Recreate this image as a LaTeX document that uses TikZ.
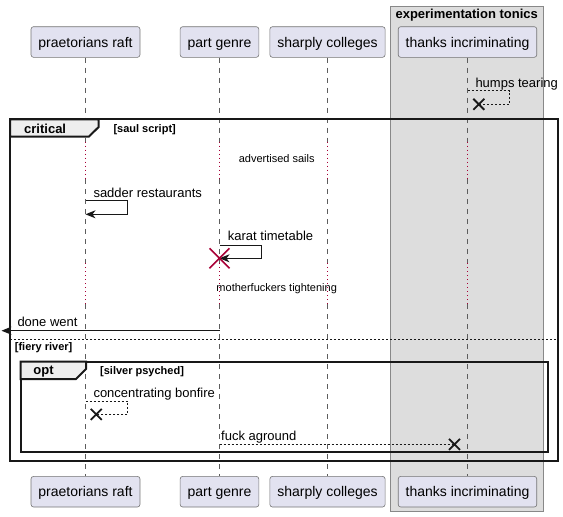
\documentclass[tikz,border=0pt]{standalone}
\usepackage{fontspec}
\setmainfont{Liberation Sans}
\usetikzlibrary{arrows.meta,positioning,calc}

\definecolor{partfill}{HTML}{E2E2F0}
\definecolor{partline}{HTML}{181818}
\definecolor{boxfill}{HTML}{DDDDDD}
\definecolor{boxline}{HTML}{888888}
\definecolor{tabfill}{HTML}{EEEEEE}
\definecolor{delayred}{HTML}{A80036}

\tikzset{
  part/.style={draw=partline!60,fill=partfill,rounded corners=2.5pt,line width=0.6pt,
    minimum height=30.6pt,inner xsep=7.4pt,text height=11.5pt,text depth=1pt,
    font=\fontsize{14}{16}\selectfont},
  life/.style={partline!70,line width=0.6pt,dash pattern=on 5pt off 5pt},
  delayline/.style={delayred,line width=1pt,dash pattern=on 1pt off 3pt},
  msg/.style={anchor=base west,inner sep=0pt,font=\fontsize{13}{15}\selectfont},
  delaytext/.style={anchor=base,inner sep=0pt,font=\fontsize{11}{13}\selectfont},
  frame/.style={partline,line width=2pt},
  tab/.style={partline,line width=2pt,fill=tabfill},
  fhead/.style={anchor=base west,inner sep=0pt,font=\bfseries\fontsize{13}{15}\selectfont},
  guard/.style={anchor=base west,inner sep=0pt,font=\bfseries\fontsize{11}{13}\selectfont},
  solidmsg/.style={partline,line width=1pt,-{Stealth[length=10pt,width=8pt,inset=3pt]}},
  dashmsg/.style={partline,line width=0.9pt,dash pattern=on 2pt off 2pt},
  cross/.style={partline,line width=1.8pt},
  redcross/.style={delayred,line width=1.6pt},
}

\begin{document}
\begin{tikzpicture}[x=1pt,y=-1pt]
  \useasboundingbox (0,0) rectangle (563,517);
  % box round the last participant
  \draw[boxline,fill=boxfill,line width=0.8pt] (390,6) rectangle (543.3,511.7);
  \node[anchor=base,inner sep=0pt,font=\bfseries\fontsize{13}{15}\selectfont] (tonics) at (466.7,18) {experimentation tonics};
  % participants
  \node[part] (raft) at (85.5,42) {praetorians raft};
  \node[part] (genre) at (219.5,42) {part genre};
  \node[part] (colleges) at (327.5,42) {sharply colleges};
  \node[part] (thanks) at (467.5,42) {thanks incriminating};
  \node[part] (raftb) at (85.5,491.7) {praetorians raft};
  \node[part] (genreb) at (219.5,491.7) {part genre};
  \node[part] (collegesb) at (327.5,491.7) {sharply colleges};
  \node[part] (thanksb) at (467.5,491.7) {thanks incriminating};
  % lifelines, dotted where the delays are
  \foreach \p in {raft,genre,colleges,thanks}{
    \draw[life] (\p.south) -- (\p |- 0,141.5);
    \draw[delayline] (\p |- 0,141.5) -- (\p |- 0,179);
    \draw[life] (\p |- 0,179) -- (\p |- 0,263);
    \draw[delayline] (\p |- 0,263) -- (\p |- 0,304);
    \draw[life] (\p |- 0,304) -- (\p b.north);
  }
  % humps tearing
  \coordinate (humpsx) at (478.8,104.3);
  \draw[dashmsg] (thanks |- 0,90.7) -- (509.3,90.7) -- (509.3,104.3) -- (humpsx);
  \draw[cross] (humpsx) +(-5.5,-5.5) -- +(5.5,5.5) +(-5.5,5.5) -- +(5.5,-5.5);
  \node[msg] (humps) at (475.3,87.3) {humps tearing};
  % critical frame
  \draw[frame] (10,119.3) rectangle (557.5,460.7);
  \draw[tab] (10,119.3) -- (98.7,119.3) -- (98.7,127) -- (88.7,136.7) -- (10,136.7) -- cycle;
  \node[fhead] (critical) at (24,133.3) {critical};
  \node[guard] (saul) at (113.3,132.7) {[saul script]};
  \node[delaytext] (sails) at (276.7,162.3) {advertised sails};
  % sadder restaurants
  \draw[solidmsg] (raft |- 0,200.7) -- (127.7,200.7) -- (127.7,214.3) -- (raft |- 0,214.3);
  \node[msg] (sadder) at (93.3,197.3) {sadder restaurants};
  % karat timetable
  \coordinate (killed) at (genre |- 0,258.3);
  \draw[solidmsg] (genre |- 0,245.3) -- (261.3,245.3) -- (261.3,258.3) -- (killed);
  \draw[redcross] (killed) +(-10,-10) -- +(10,10) +(-10,10) -- +(10,-10);
  \node[msg] (karat) at (227.7,240.5) {karat timetable};
  \node[delaytext] (tightening) at (276.7,291.7) {motherfuckers tightening};
  % done went
  \coordinate (offstage) at (1.5,330.7);
  \draw[solidmsg] (genre |- 0,330.7) -- (offstage);
  \node[msg] (done) at (17.3,326.7) {done went};
  % else part
  \draw[partline,line width=0.7pt,dash pattern=on 2pt off 2pt] (10,339.3) -- (557.5,339.3);
  \node[guard] (fiery) at (14.7,350.7) {[fiery river]};
  % opt frame
  \draw[frame] (20.7,361.7) rectangle (547.7,451.7);
  \draw[tab] (20.7,361.7) -- (86,361.7) -- (86,369) -- (76,379) -- (20.7,379) -- cycle;
  \node[fhead] (opt) at (33.3,374.3) {opt};
  \node[guard] (silver) at (100,374) {[silver psyched]};
  % concentrating bonfire
  \coordinate (bonfirex) at (96.2,414.4);
  \draw[dashmsg] (raft |- 0,401) -- (127.7,401) -- (127.7,414.4) -- (bonfirex);
  \draw[cross] (bonfirex) +(-5.5,-5.5) -- +(5.5,5.5) +(-5.5,5.5) -- +(5.5,-5.5);
  \node[msg] (bonfire) at (93.3,397.3) {concentrating bonfire};
  % fuck aground
  \coordinate (agroundx) at (454.5,444.4);
  \draw[dashmsg] (genre |- 0,444.4) -- (agroundx);
  \draw[cross] (agroundx) +(-5.5,-5.5) -- +(5.5,5.5) +(-5.5,5.5) -- +(5.5,-5.5);
  \node[msg] (aground) at (221,440.7) {fuck aground};
\end{tikzpicture}
\end{document}
